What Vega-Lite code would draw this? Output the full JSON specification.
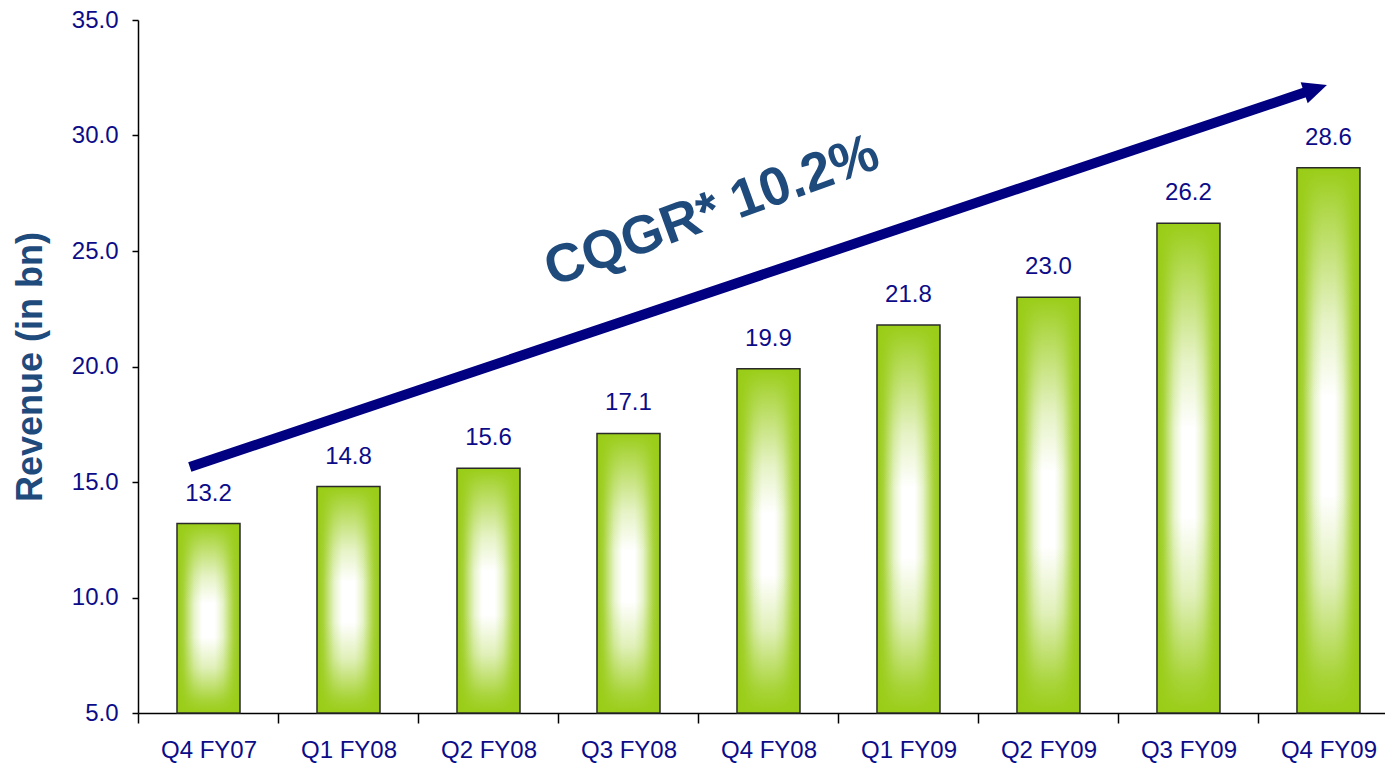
{
  "$schema": "https://vega.github.io/schema/vega-lite/v6.json",
  "width": 1247,
  "height": 693,
  "autosize": {"type": "none"},
  "padding": {"left": 138, "top": 20, "right": 0, "bottom": 55},
  "background": "white",
  "config": {
    "view": {"stroke": null},
    "axis": {
      "grid": false,
      "domainColor": "#000000",
      "domainWidth": 1.5,
      "tickColor": "#000000",
      "tickWidth": 1.5,
      "labelFont": "Liberation Sans",
      "labelFontSize": 24,
      "labelColor": "#0c0c88"
    }
  },
  "datasets": {
    "revenue": [
      {"quarter": "Q4 FY07", "revenue": 13.2},
      {"quarter": "Q1 FY08", "revenue": 14.8},
      {"quarter": "Q2 FY08", "revenue": 15.6},
      {"quarter": "Q3 FY08", "revenue": 17.1},
      {"quarter": "Q4 FY08", "revenue": 19.9},
      {"quarter": "Q1 FY09", "revenue": 21.8},
      {"quarter": "Q2 FY09", "revenue": 23.0},
      {"quarter": "Q3 FY09", "revenue": 26.2},
      {"quarter": "Q4 FY09", "revenue": 28.6}
    ],
    "trend": [
      {"pos": -0.13, "val": 15.65},
      {"pos": 7.843, "val": 31.88}
    ],
    "tip": [
      {"pos": 7.911, "val": 32.02}
    ],
    "note": [
      {"pos": 3.6, "val": 26.7, "label": "CQGR* 10.2%"}
    ]
  },
  "layer": [
    {
      "data": {"name": "revenue"},
      "encoding": {
        "x": {
          "field": "quarter",
          "type": "nominal",
          "sort": null,
          "scale": {"paddingInner": 0.55, "paddingOuter": 0.2287, "align": 0.609},
          "axis": {
            "title": null,
            "labelAngle": 0,
            "labelPadding": 15,
            "tickSize": 10,
            "bandPosition": 0.5,
            "tickOffset": -70,
            "labelOffset": 70
          }
        },
        "y": {
          "field": "revenue",
          "type": "quantitative",
          "scale": {"domain": [5, 35], "nice": false, "zero": false},
          "axis": {
            "title": "Revenue (in bn)",
            "titleFont": "Liberation Sans",
            "titleFontSize": 36,
            "titleFontWeight": "bold",
            "titleColor": "#1f4a7c",
            "titlePadding": 22,
            "values": [5, 10, 15, 20, 25, 30, 35],
            "format": ".1f",
            "tickSize": 6,
            "labelPadding": 14
          }
        }
      },
      "layer": [
        {
          "mark": {
            "type": "bar",
            "fill": {
              "gradient": "linear",
              "x1": 0, "y1": 0, "x2": 1, "y2": 0,
              "stops": [
                {"offset": 0, "color": "#96c918"},
                {"offset": 0.1, "color": "#a8d33a"},
                {"offset": 0.27, "color": "#e6f3c8"},
                {"offset": 0.4, "color": "#ffffff"},
                {"offset": 0.6, "color": "#ffffff"},
                {"offset": 0.73, "color": "#e6f3c8"},
                {"offset": 0.9, "color": "#a8d33a"},
                {"offset": 1, "color": "#96c918"}
              ]
            }
          },
          "encoding": {
            "y2": {"datum": 5}
          }
        },
        {
          "mark": {
            "type": "bar",
            "stroke": "#2a2a2a",
            "strokeWidth": 1.5,
            "fill": {
              "gradient": "linear",
              "x1": 0, "y1": 0, "x2": 0, "y2": 1,
              "stops": [
                {"offset": 0, "color": "rgba(154,205,24,1)"},
                {"offset": 0.07, "color": "rgba(154,205,24,0.8)"},
                {"offset": 0.28, "color": "rgba(154,205,24,0.25)"},
                {"offset": 0.42, "color": "rgba(154,205,24,0)"},
                {"offset": 0.6, "color": "rgba(154,205,24,0)"},
                {"offset": 0.76, "color": "rgba(154,205,24,0.3)"},
                {"offset": 0.93, "color": "rgba(154,205,24,0.85)"},
                {"offset": 1, "color": "rgba(154,205,24,1)"}
              ]
            }
          },
          "encoding": {
            "y2": {"datum": 5}
          }
        },
        {
          "mark": {
            "type": "text",
            "baseline": "alphabetic",
            "dy": -23,
            "font": "Liberation Sans",
            "fontSize": 24,
            "fill": "#0c0c88"
          },
          "encoding": {
            "text": {"field": "revenue", "type": "quantitative", "format": ".1f"}
          }
        }
      ]
    },
    {
      "layer": [
        {
          "data": {"name": "trend"},
          "mark": {"type": "line", "color": "#000080", "strokeWidth": 10, "strokeCap": "butt"},
          "encoding": {
            "x": {"field": "pos", "type": "quantitative", "scale": {"domain": [-0.5, 8.407], "nice": false, "zero": false}, "axis": null},
            "y": {"field": "val", "type": "quantitative"}
          }
        },
        {
          "data": {"name": "tip"},
          "mark": {
            "type": "point",
            "shape": "M-1,-0.92L1,0L-1,0.92Z",
            "size": 576,
            "angle": 341.4,
            "filled": true,
            "fill": "#000080",
            "opacity": 1,
            "strokeWidth": 0
          },
          "encoding": {
            "x": {"field": "pos", "type": "quantitative", "scale": {"domain": [-0.5, 8.407], "nice": false, "zero": false}, "axis": null},
            "y": {"field": "val", "type": "quantitative"}
          }
        },
        {
          "data": {"name": "note"},
          "mark": {
            "type": "text",
            "angle": 340,
            "align": "center",
            "baseline": "middle",
            "font": "Liberation Sans",
            "fontSize": 54,
            "fontWeight": "bold",
            "fill": "#1f4a7c"
          },
          "encoding": {
            "x": {"field": "pos", "type": "quantitative", "scale": {"domain": [-0.5, 8.407], "nice": false, "zero": false}, "axis": null},
            "y": {"field": "val", "type": "quantitative"},
            "text": {"field": "label"}
          }
        }
      ]
    }
  ],
  "resolve": {"scale": {"x": "independent"}, "axis": {"x": "independent"}}
}
